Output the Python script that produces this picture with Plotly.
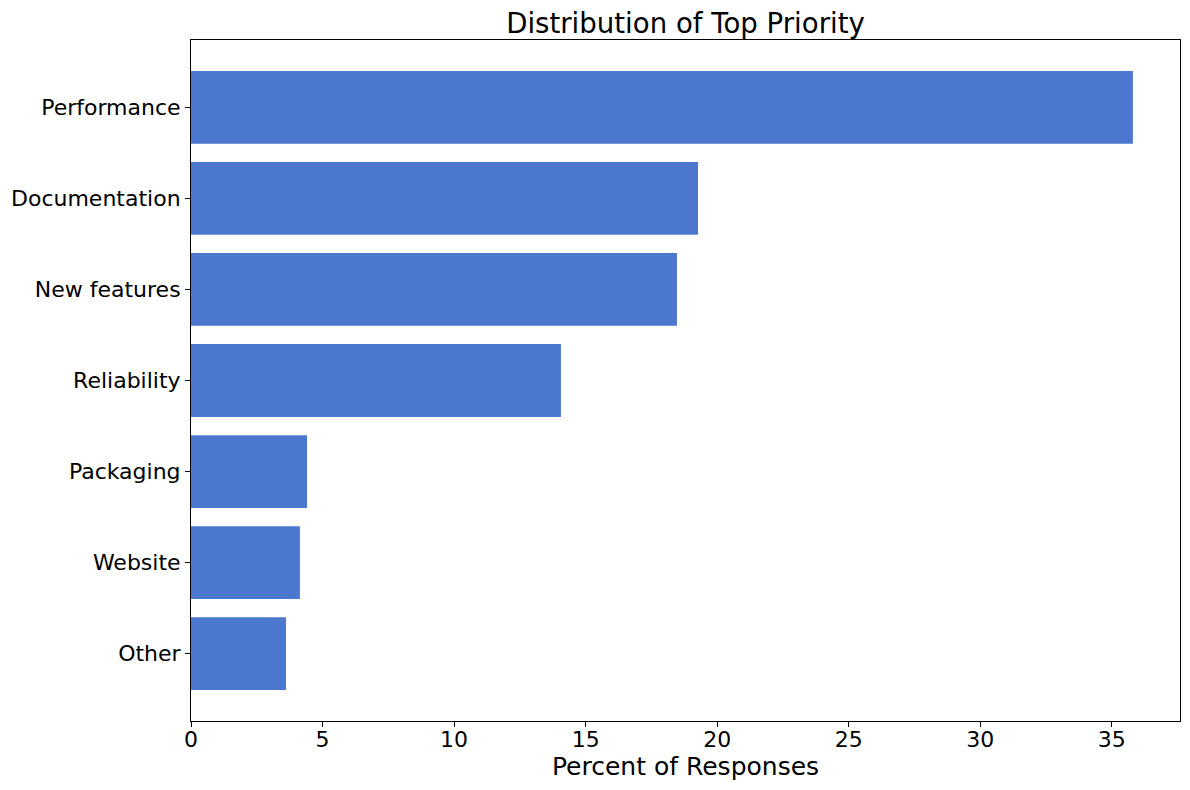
import plotly.graph_objects as go

categories = ["Performance", "Documentation", "New features", "Reliability", "Packaging", "Website", "Other"]
percents = [35.8, 19.27, 18.47, 14.06, 4.41, 4.14, 3.61]
x_ticks = [0, 5, 10, 15, 20, 25, 30, 35]

font = "DejaVu Sans"
W, H = 1182, 782
L, R, T, B = 183, 10, 32, 69
fig = go.Figure(go.Bar(
    x=percents, y=list(range(len(categories))), orientation="h",
    width=0.8, marker=dict(color="#4C77CF", line=dict(width=0)),
))
fig.update_layout(
    width=W, height=H,
    margin=dict(l=L, r=R, t=T, b=B, autoexpand=False),
    paper_bgcolor="white", plot_bgcolor="white",
    font=dict(family=font, color="black", size=22),
    title=dict(text="Distribution of Top Priority", x=(L + W - R) / 2 / W, xanchor="center",
               y=1 - 15 / H, yanchor="middle", font=dict(size=27.6, family=font)),
    showlegend=False,
    xaxis=dict(range=[0, max(percents) * 1.05], tickvals=x_ticks, automargin=False,
               ticks="outside", ticklen=5, tickwidth=1, tickcolor="black",
               ticklabelstandoff=-6,
               showgrid=False, zeroline=False, showline=True, linecolor="black",
               linewidth=1, mirror=True, tickfont=dict(size=22),
               title=dict(text="Percent of Responses", font=dict(size=25), standoff=4)),
    yaxis=dict(range=[len(categories) - 1 + 0.74, -0.74], automargin=False,
               tickvals=list(range(len(categories))), ticktext=categories,
               ticks="outside", ticklen=5, tickwidth=1, tickcolor="black",
               showgrid=False, zeroline=False, showline=True, linecolor="black",
               linewidth=1, mirror=True, tickfont=dict(size=22)),
)
fig.write_html("out.html")
